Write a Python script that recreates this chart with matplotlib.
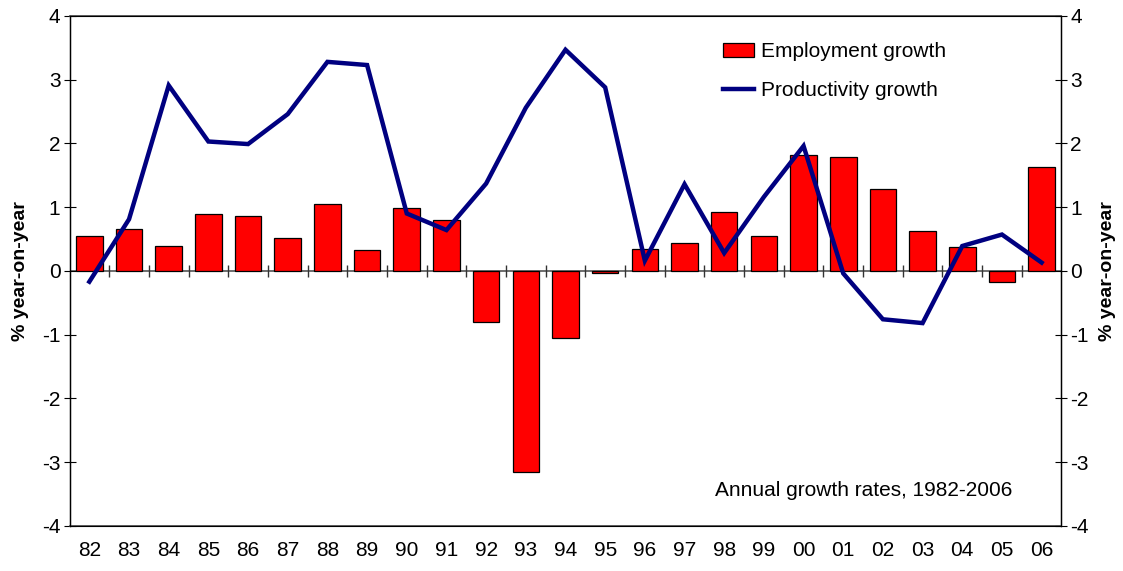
import numpy as np
import matplotlib
matplotlib.use("Agg")
import matplotlib.pyplot as plt

plt.rcParams["font.family"] = ["Liberation Sans", "DejaVu Sans"]
plt.rcParams["axes.unicode_minus"] = False

years = ["82", "83", "84", "85", "86", "87", "88", "89", "90", "91", "92", "93", "94",
         "95", "96", "97", "98", "99", "00", "01", "02", "03", "04", "05", "06"]
employment = [0.55, 0.65, 0.39, 0.90, 0.86, 0.51, 1.05, 0.33, 0.99, 0.80, -0.80, -3.15, -1.06,
              -0.04, 0.34, 0.43, 0.92, 0.54, 1.82, 1.78, 1.28, 0.63, 0.37, -0.18, 1.63]
productivity = [-0.17, 0.81, 2.91, 2.03, 1.99, 2.46, 3.28, 3.23, 0.90, 0.64, 1.37, 2.56, 3.47,
                2.88, 0.16, 1.36, 0.28, 1.16, 1.96, -0.04, -0.76, -0.82, 0.39, 0.57, 0.13]

x = np.arange(len(years))

fig = plt.figure(figsize=(11.23, 5.71), dpi=100)
ax = fig.add_axes([0.0619, 0.0793, 0.8833, 0.8927])

bars = ax.bar(x, employment, width=0.67, color="#ff0000", edgecolor="black", linewidth=0.9,
              label="Employment growth", zorder=2)
line, = ax.plot(x, productivity, color="#000080", linewidth=3.2, label="Productivity growth",
                solid_joinstyle="miter", zorder=3)

# zero line with category separators
ax.axhline(0, color="#555555", linewidth=1.2, zorder=1)
bounds = np.arange(len(years) - 1) + 0.5
ax.plot(bounds, np.zeros(len(bounds)), linestyle="none", marker="|", markersize=9,
        markeredgewidth=1.0, color="#333333", zorder=1)

ax.set_xlim(-0.5, len(years) - 0.5)
ax.set_ylim(-4, 4)
ax.set_xticks(x)
ax.set_xticklabels(years, fontsize=15)
ax.tick_params(axis="x", length=0, pad=11)
ax.set_yticks(range(-4, 5))
ax.tick_params(axis="y", direction="inout", length=9, labelsize=15, pad=2)

for s in ["top", "bottom"]:
    ax.spines[s].set_color("#444444")
    ax.spines[s].set_linewidth(1.2)
ax.spines["left"].set_linewidth(1.0)
ax.spines["right"].set_linewidth(1.0)

ax2 = ax.twinx()
ax2.set_ylim(-4, 4)
ax2.set_yticks(range(-4, 5))
ax2.tick_params(axis="y", direction="inout", length=9, labelsize=15, pad=2)
ax2.set_ylabel("% year-on-year", fontsize=14, fontweight="bold", labelpad=7)
ax.set_ylabel("% year-on-year", fontsize=14, fontweight="bold", labelpad=9)

ax.legend([bars, line], ["Employment growth", "Productivity growth"],
          loc="upper left", bbox_to_anchor=(0.64, 0.985), frameon=False, fontsize=15,
          handlelength=1.5, handletextpad=0.3, labelspacing=0.95)

ax.text(0.651, 0.07, "Annual growth rates, 1982-2006", transform=ax.transAxes,
        fontsize=15, ha="left", va="center")

fig.savefig("out.png", dpi=100)
